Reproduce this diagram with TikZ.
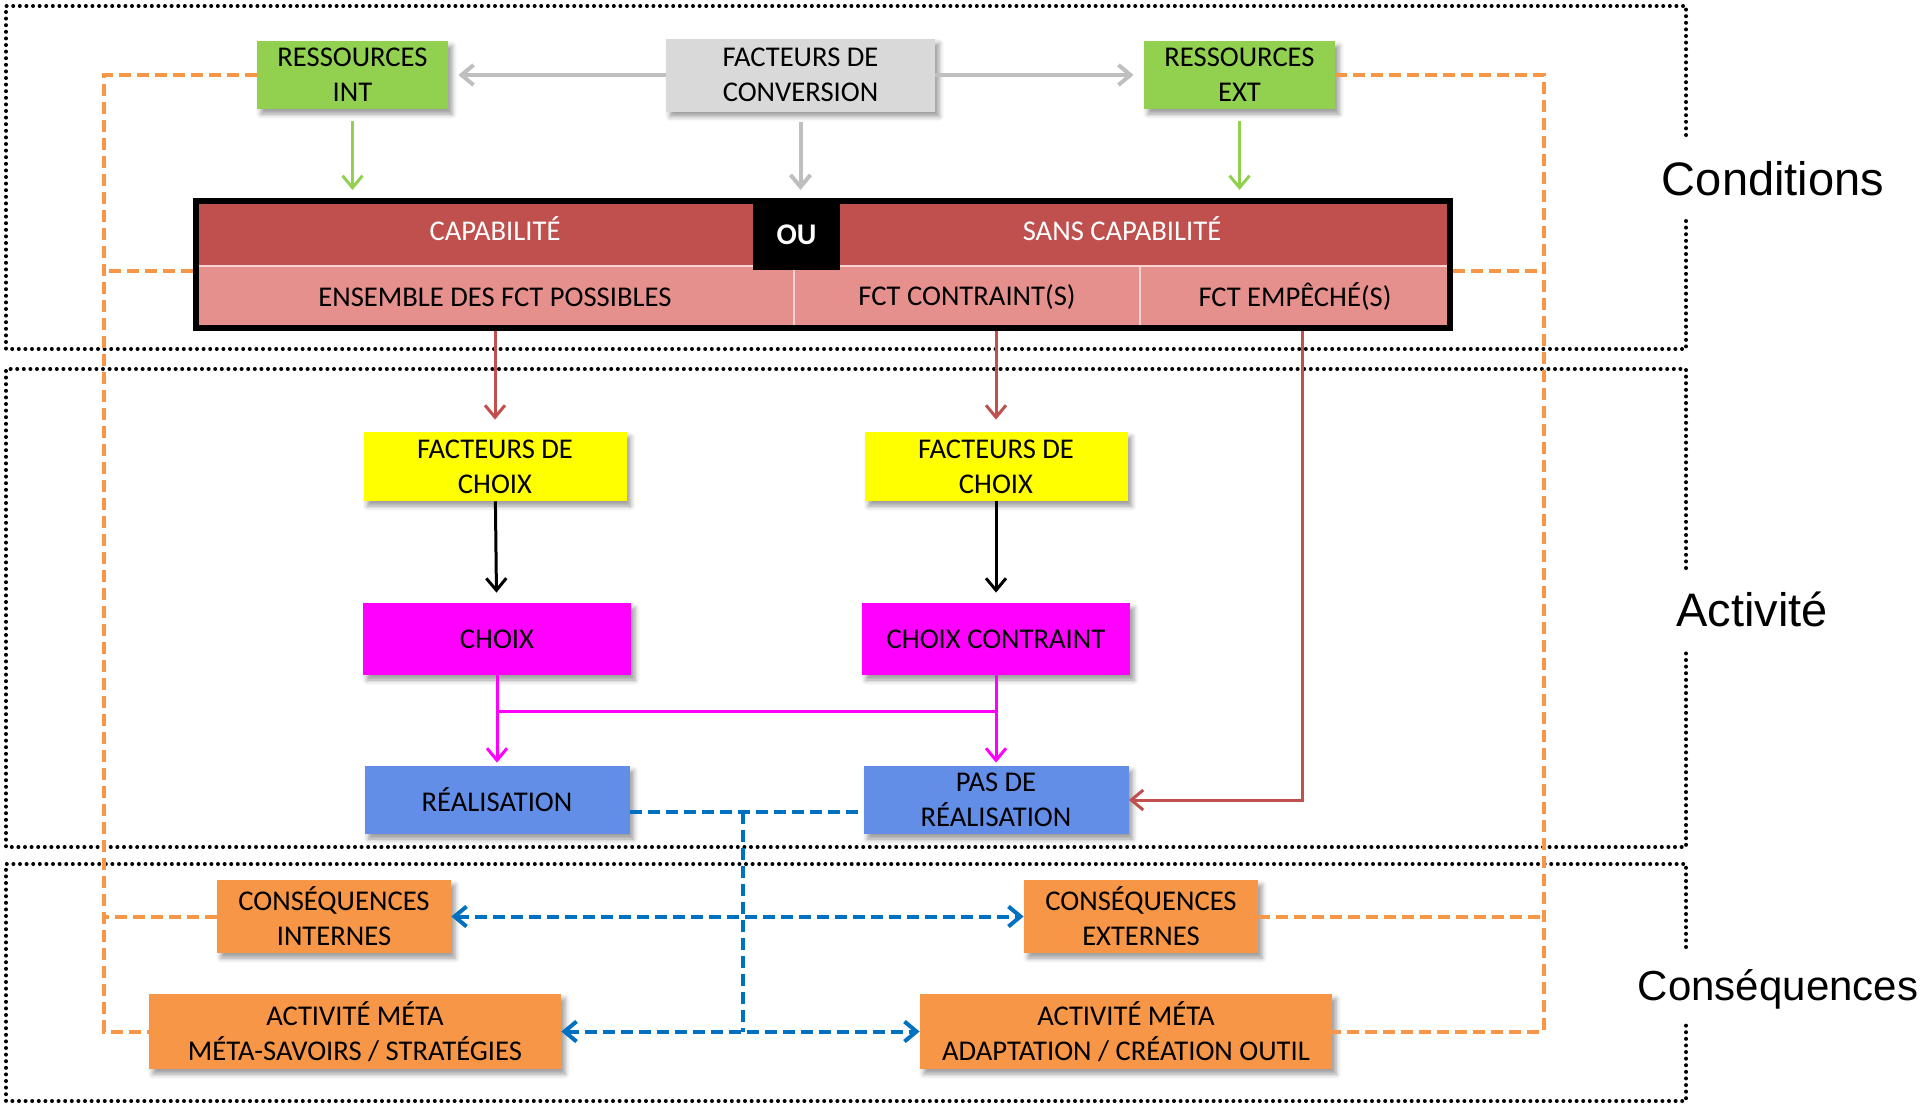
\documentclass[tikz,border=0pt]{standalone}
\usepackage{fontspec}
\newfontfamily\boxfont{Carlito}
\newfontfamily\lblfont{Liberation Sans}
\usetikzlibrary{arrows.meta,positioning,shadows.blur}
\definecolor{resgreen}{HTML}{92D050}
\definecolor{convgray}{HTML}{D9D9D9}
\definecolor{arrgray}{HTML}{BFBFBF}
\definecolor{capred}{HTML}{C0504D}
\definecolor{caplight}{HTML}{E6908E}
\definecolor{facyellow}{HTML}{FFFF00}
\definecolor{choixmag}{HTML}{FF00FF}
\definecolor{realblue}{HTML}{628EE8}
\definecolor{csqorange}{HTML}{F79646}
\definecolor{linkblue}{HTML}{0070C0}
\tikzset{>={Straight Barb[length=6pt,width=10pt]}}
\tikzset{box/.style={align=center, inner sep=0pt,
    font=\boxfont\fontsize{14.3}{17.5}\selectfont,
    blur shadow={shadow xshift=2pt, shadow yshift=-2.5pt,
      shadow blur radius=2.5pt, shadow opacity=40}}}
\tikzset{resbox/.style={box, fill=resgreen, minimum width=95.5pt, minimum height=34pt},
  convbox/.style={box, fill=convgray, minimum width=134.5pt, minimum height=36.5pt},
  choixfac/.style={box, fill=facyellow, minimum width=131.5pt, minimum height=34.5pt},
  choixbox/.style={box, fill=choixmag, minimum width=134pt, minimum height=36pt},
  realbox/.style={box, fill=realblue, minimum width=132.5pt, minimum height=34pt},
  csqbox/.style={box, fill=csqorange, minimum width=117pt, minimum height=36.5pt},
  metabox/.style={box, fill=csqorange, minimum width=206pt, minimum height=37.5pt},
  toprow/.style={box, blur shadow={shadow opacity=0}, fill=capred, text=white,
    draw=white!55!capred, line width=.6pt, minimum height=32.5pt, text depth=5pt},
  botrow/.style={box, blur shadow={shadow opacity=0}, fill=caplight,
    draw=white!60!caplight, line width=.6pt, minimum height=31pt},
  oubox/.style={fill=black, text=white, inner sep=0pt,
    font=\boxfont\bfseries\fontsize{15}{18}\selectfont,
    minimum width=43.5pt, minimum height=35.5pt},
  tabframe/.style={draw=black, line width=3pt, inner sep=0pt,
    minimum width=627pt, minimum height=63.5pt},
  lbl/.style={font=\lblfont\fontsize{23.5}{28}\selectfont, inner sep=0pt},
  secframe/.style={line width=2pt, line cap=round, dash pattern=on 0pt off 3.3pt}}
\tikzset{grayarr/.style={->, draw=arrgray, line width=2pt},
  greenarr/.style={->, draw=resgreen, line width=1.5pt},
  redarr/.style={->, draw=capred, line width=1.5pt},
  blackarr/.style={->, draw=black, line width=1.5pt},
  magline/.style={draw=choixmag, line width=1.5pt},
  orangedash/.style={draw=csqorange, line width=2pt, dash pattern=on 6pt off 3pt},
  bluedash/.style={draw=linkblue, line width=2pt, dash pattern=on 6pt off 3pt}}

\begin{document}
\begin{tikzpicture}[x=0.5pt, y=-0.5pt]
    \useasboundingbox (0,0) rectangle (1920,1104);

    % sections
    \foreach \top/\bot/\ga/\gb in {6/349/135/220, 369/847/568/652, 864/1101/947/1023}
    \draw[secframe] (1686,\ga) -- (1686,\top) -- (6,\top) -- (6,\bot) --
    (1686,\bot) -- (1686,\gb);
    \node[lbl, anchor=base] (cond) at (1773,195) {Conditions};
    \node[lbl, anchor=base] (activ) at (1752,626) {Activité};
    \node[lbl, anchor=base, font=\lblfont\fontsize{21}{25}\selectfont]
    (conseq) at (1778,1000) {Conséquences};

    \coordinate (ri') at (352.5,75);
    \coordinate (fdc') at (800.5,75);
    \coordinate (re') at (1239.5,75);
    \coordinate (tab') at (823,264.5);
    \coordinate (fc1') at (495,466.5);
    \coordinate (fc2') at (996,466.5);
    \coordinate (ch1') at (497,639);
    \coordinate (ch2') at (996,639);
    \coordinate (real') at (497,800);
    \coordinate (pdr') at (996,800);
    \coordinate (ci') at (334,916.5);
    \coordinate (ce') at (1141,916.5);
    \coordinate (am1') at (355,1031.5);
    \coordinate (am2') at (1126,1031.5);

    \node[resbox] (ri) at (ri') {RESSOURCES\\INT};
    \node[convbox] (fdc) at (fdc') {FACTEURS DE\\CONVERSION};
    \node[resbox] (re) at (re') {RESSOURCES\\EXT};

    % capability table
    \node[toprow, minimum width=299pt] (cap) at (495,233.5) {CAPABILITÉ};
    \node[toprow, minimum width=328pt] (sanscap) at (1122,233.5) {SANS CAPABILITÉ};
    \node[botrow, minimum width=299pt] (ens) at (495,297) {ENSEMBLE DES FCT POSSIBLES};
    \node[botrow, minimum width=173pt] (contr) at (967,297) {FCT CONTRAINT(S)};
    \node[botrow, minimum width=155pt] (emp) at (1295,297) {FCT EMPÊCHÉ(S)};
    \node[oubox] (ou) at (796.5,234.5) {OU};
    \node[tabframe] (tab) at (tab') {};

    \node[choixfac] (fc1) at (fc1') {FACTEURS DE\\CHOIX};
    \node[choixfac] (fc2) at (fc2') {FACTEURS DE\\CHOIX};
    \node[choixbox] (ch1) at (ch1') {CHOIX};
    \node[choixbox] (ch2) at (ch2') {CHOIX CONTRAINT};
    \node[realbox] (real) at (real') {RÉALISATION};
    \node[realbox] (pdr) at (pdr') {PAS DE\\RÉALISATION};
    \node[csqbox] (ci) at (ci') {CONSÉQUENCES\\INTERNES};
    \node[csqbox] (ce) at (ce') {CONSÉQUENCES\\EXTERNES};
    \node[metabox] (am1) at (am1') {ACTIVITÉ MÉTA\\MÉTA-SAVOIRS / STRATÉGIES};
    \node[metabox] (am2) at (am2') {ACTIVITÉ MÉTA\\ADAPTATION / CRÉATION OUTIL};

    \coordinate (ol) at (104,0);
    \coordinate (or) at (1544,0);
    \coordinate (ej) at (1302,0);
    \coordinate (mj) at (0,711);
    \coordinate (rj) at (743,812);

    % conditions
    \path[grayarr, shorten >=5pt] (fdc) edge (ri) edge (re);
    \path[grayarr, shorten <=5pt, shorten >=4pt] (fdc) edge (fdc |- tab.north);
    \path[greenarr, shorten <=6pt, shorten >=4pt] (ri) edge (ri |- tab.north);
    \path[greenarr, shorten <=6pt, shorten >=4pt] (re) edge (re |- tab.north);
    \draw[orangedash] (ri.west) -| (ol |- am1) -- (am1.west);
    \draw[orangedash] ([yshift=-3.25pt]tab.west) -- ([yshift=-3.25pt]tab.west -| ol);
    \draw[orangedash] (ci.west) -- (ci.west -| ol);
    \draw[orangedash] (re.east) -| (or |- am2) -- (am2.east);
    \draw[orangedash] ([yshift=-3.25pt]tab.east) -- ([yshift=-3.25pt]tab.east -| or);
    \draw[orangedash] (ce.east) -- (ce.east -| or);

    % activite
    \draw[redarr, shorten >=6pt] (tab.south -| fc1) -- (fc1);
    \draw[redarr, shorten >=6pt] (tab.south -| fc2) -- (fc2);
    \draw[redarr] (tab.south -| ej) |- (pdr);
    \path[blackarr, shorten >=5pt] (fc1) edge (ch1) (fc2) edge (ch2);
    \path[magline, ->, shorten >=1.5pt] (ch1) edge (real) (ch2) edge (pdr);
    \draw[magline] (ch1 |- mj) -- (ch2 |- mj);

    % consequences
    \draw[bluedash] (real.east |- rj) -- (pdr.west |- rj);
    \draw[bluedash] (rj) -- (rj |- am1);
    \draw[bluedash, <->] (ci) -- (ce);
    \draw[bluedash, <->] (am1) -- (am2);
  \end{tikzpicture}
\end{document}
